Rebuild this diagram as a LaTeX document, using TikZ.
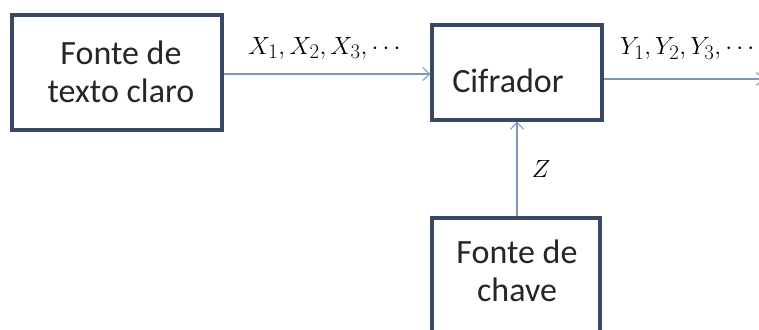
\documentclass[tikz,border=0pt]{standalone}
\usepackage{fontspec}
\setmainfont{Carlito}
\usetikzlibrary{arrows.meta}
\definecolor{boxc}{RGB}{56,72,100}
\definecolor{connc}{RGB}{125,150,185}
\tikzset{
  blockbox/.style={draw=boxc, line width=3.2pt, fill=white, inner sep=0pt},
  blocktext/.style={inner sep=0pt, align=center, font=\fontsize{34}{38}\selectfont, text=black!85},
  mathlbl/.style={inner sep=0pt, font=\fontsize{24.88}{28}\selectfont},
  conn/.style={draw=connc, line width=1.2pt, -{Straight Barb[length=7pt,width=13pt,line width=1pt]}}
}
\begin{document}
\begin{tikzpicture}[x=1pt,y=-1pt]
\clip (0,0) rectangle (759,329);
\fill[white] (0,0) rectangle (759,329);
\node[blockbox, minimum width=210pt, minimum height=115pt] (src) at (117,72.5) {};
\node[blocktext] (srct) at (121,72.2) {Fonte de\\texto claro};
\node[blockbox, minimum width=170pt, minimum height=95pt] (cif) at (517,72.5) {};
\node[blocktext] (cift) at (508,81.2) {Cifrador};
\node[blockbox, minimum width=168pt, minimum height=127pt] (key) at (516,281.5) {};
\node[blocktext] (keyt) at (517,271) {Fonte de\\chave};
\coordinate (out) at (764,79);
\draw[conn] (src.east |- 0,74) -- (cif.west |- 0,74);
\draw[conn] (cif.east |- out) -- (out);
\draw[conn] (key.north -| 517,0) -- (cif.south -| 517,0);
\node[mathlbl, anchor=base west] (xl) at (248,54) {$X_1,X_2,X_3,\cdots$};
\node[mathlbl, anchor=base west] (yl) at (620,55) {$Y_1,Y_2,Y_3,\cdots$};
\node[mathlbl, anchor=base] (zl) at (541,177) {$Z$};
\end{tikzpicture}
\end{document}
